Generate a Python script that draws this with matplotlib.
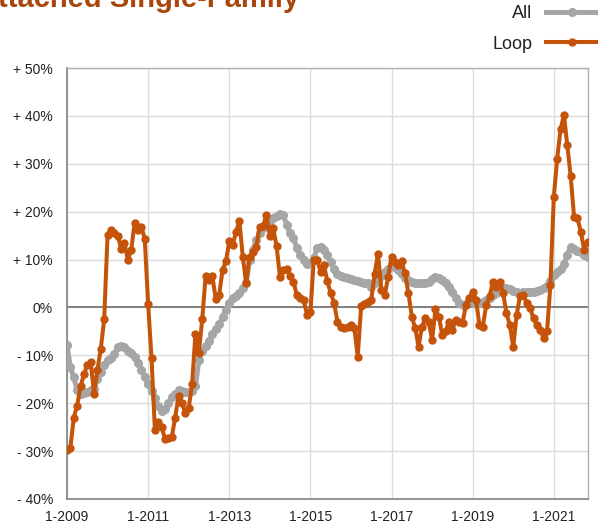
import numpy as np
import matplotlib
matplotlib.use("Agg")
import matplotlib.pyplot as plt

GRAY = "#a6a6a6"
ORANGE = "#c5540a"
TITLE_C = "#a8460b"

plt.rcParams["font.family"] = ["Liberation Sans", "DejaVu Sans"]

# monthly year-over-year change, Jan 2009 .. Nov 2021
start_year = 2009
all_vals = [
    -7.9, -12.5, -14.6, -17.2, -18.0, -17.9, -17.7, -17.3, -17.0, -15.0, -13.5, -12.0,
    -11.0, -10.5, -9.8, -8.2, -8.0, -8.2, -9.0, -9.6, -10.4, -11.5, -13.0, -14.5,
    -16.0, -17.4, -19.0, -20.5, -21.6, -21.2, -20.0, -18.8, -18.0, -17.2, -17.5, -17.7,
    -17.7, -17.5, -16.4, -11.0, -9.0, -8.0, -7.0, -5.5, -4.5, -3.5, -2.0, -0.5,
    1.0, 2.0, 2.4, 3.0, 4.0, 5.0, 10.0, 12.0, 14.0, 15.5, 16.5, 17.2,
    18.0, 18.6, 19.0, 19.5, 19.3, 17.2, 15.5, 14.4, 12.5, 11.0, 10.0, 9.0,
    9.2, 10.3, 12.5, 12.7, 12.0, 11.0, 9.5, 8.0, 7.0, 6.6, 6.3, 6.1,
    6.0, 5.8, 5.6, 5.4, 5.2, 5.0, 4.3, 5.0, 5.5, 6.5, 7.5, 8.0,
    8.9, 8.5, 7.8, 7.0, 6.2, 5.7, 5.3, 5.0, 5.0, 5.0, 5.2, 5.4,
    6.0, 6.3, 6.2, 5.7, 5.0, 4.3, 3.3, 2.0, 1.0, 0.6, 0.8, 1.3,
    1.0, 0.9, 0.9, 1.2, 1.6, 2.0, 2.5, 3.0, 3.5, 4.0, 4.0, 3.8,
    3.5, 3.2, 3.0, 3.2, 3.3, 3.3, 3.3, 3.4, 3.6, 4.0, 4.5, 5.5,
    6.8, 7.5, 8.0, 9.0, 11.0, 12.7, 12.2, 11.7, 11.5, 11.0, 10.6,
]
loop_vals = [
    -29.7, -29.3, -23.0, -20.5, -16.5, -14.0, -12.0, -11.3, -18.0, -13.0, -8.6, -2.5,
    15.2, 16.1, 15.5, 15.0, 12.3, 13.4, 10.0, 12.0, 17.7, 16.2, 16.9, 14.3,
    0.7, -10.5, -25.5, -24.0, -25.0, -27.5, -27.3, -27.0, -23.0, -18.5, -20.0, -22.0,
    -21.0, -16.0, -5.5, -9.5, -2.5, 6.5, 5.8, 6.5, 1.8, 2.5, 7.8, 9.6,
    13.8, 13.0, 15.8, 18.1, 10.6, 5.0, 10.5, 11.5, 12.7, 16.9, 17.0, 19.4,
    15.0, 16.5, 12.8, 6.4, 7.8, 8.0, 6.6, 5.4, 2.5, 2.0, 1.5, -1.5,
    -1.0, 10.0, 9.9, 7.5, 8.9, 5.5, 3.0, 1.0, -3.0, -4.0, -4.3, -4.0,
    -3.7, -4.3, -10.3, 0.2, 0.8, 1.2, 1.6, 7.0, 11.2, 3.7, 2.6, 6.4,
    10.6, 9.4, 8.9, 9.6, 7.1, 3.0, -1.9, -4.3, -8.2, -4.0, -2.3, -3.0,
    -6.8, -0.4, -1.9, -5.7, -5.0, -3.0, -4.7, -2.6, -3.0, -3.3, 0.5, 1.9,
    3.3, 1.6, -3.7, -4.0, 0.5, 2.3, 5.4, 4.3, 5.4, 3.0, -1.2, -3.7,
    -8.2, -1.6, 2.3, 2.6, 0.9, -0.2, -2.3, -3.7, -4.7, -6.4, -5.0, 4.7,
    23.0, 31.1, 37.2, 40.2, 33.9, 27.4, 18.9, 18.6, 15.8, 12.0, 13.7,
]
x_ticks = [2009, 2011, 2013, 2015, 2017, 2019, 2021]
y_ticks = [-40, -30, -20, -10, 0, 10, 20, 30, 40, 50]


def pct_label(v):
    if v > 0:
        return f"+ {v}%"
    if v < 0:
        return f"- {abs(v)}%"
    return "0%"


x = start_year + np.arange(len(loop_vals)) / 12.0

fig = plt.figure(figsize=(5.98, 5.26), dpi=100)
ax = fig.add_axes([67 / 598, 1 - 499 / 526, 521 / 598, 431 / 526])

ax.plot(x, all_vals, color=GRAY, lw=3.6, marker="o", ms=5.5,
        mec=GRAY, mfc=GRAY, label="All", zorder=3, solid_joinstyle="round")
ax.plot(x, loop_vals, color=ORANGE, lw=2.9, marker="o", ms=5,
        mec=ORANGE, mfc=ORANGE, label="Loop", zorder=4, solid_joinstyle="round")

ax.set_xlim(2009, x[-1] + 0.01)
ax.set_ylim(-40, 50)
ax.set_xticks(x_ticks)
ax.set_xticklabels([f"1-{y}" for y in x_ticks])
ax.set_yticks(y_ticks)
ax.set_yticklabels([pct_label(v) for v in y_ticks])
ax.tick_params(length=0, labelsize=10, colors="#222222")
ax.tick_params(axis="y", pad=10)
ax.tick_params(axis="x", pad=8)

ax.grid(color="#dcdcdc", lw=1.0)
ax.set_axisbelow(True)
ax.axhline(0, color="#808080", lw=1.4, zorder=2)
for name, sp in ax.spines.items():
    sp.set_color("#8a8a8a" if name in ("left", "bottom") else "#b0b0b0")
    sp.set_linewidth(1.3 if name in ("left", "bottom") else 1.0)

fig.text(-0.038, 1 - 7 / 526, "Attached Single-Family", color=TITLE_C,
         fontsize=21, fontweight="bold", ha="left", va="baseline")

leg = fig.legend(loc="upper right", bbox_to_anchor=(1.0, 1 - 5 / 526), frameon=False,
                 markerfirst=False, fontsize=13, handlelength=2.9,
                 handletextpad=0.75, labelspacing=0.75, borderaxespad=0.0,
                 borderpad=0.0)
for t in leg.get_texts():
    t.set_color("#222222")

fig.savefig("out.png", dpi=100)
